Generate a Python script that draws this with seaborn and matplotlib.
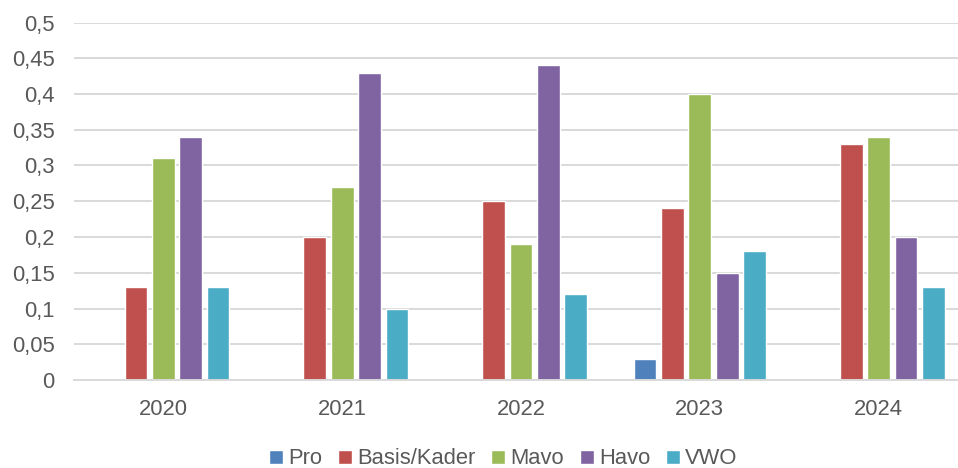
import matplotlib
matplotlib.use("Agg")
import matplotlib.pyplot as plt
import matplotlib.ticker as mticker
import seaborn as sns
import pandas as pd

years = ["2020", "2021", "2022", "2023", "2024"]
series = ["Pro", "Basis/Kader", "Mavo", "Havo", "VWO"]
pro = [0, 0, 0, 0.03, 0]
basis = [0.13, 0.20, 0.25, 0.24, 0.33]
mavo = [0.31, 0.27, 0.19, 0.40, 0.34]
havo = [0.34, 0.43, 0.44, 0.15, 0.20]
vwo = [0.13, 0.10, 0.12, 0.18, 0.13]
colors = ["#4F81BD", "#C0504D", "#9BBB59", "#8064A2", "#4BACC6"]

rows = []
for name, vals in zip(series, [pro, basis, mavo, havo, vwo]):
    for y, v in zip(years, vals):
        rows.append({"Jaar": y, "Serie": name, "Waarde": v})
df = pd.DataFrame(rows)

sns.set_style("white")
plt.rcParams["font.family"] = ["Liberation Sans", "DejaVu Sans"]
text_color = "#595959"
fs = 15.8

fig = plt.figure(figsize=(9.58, 4.68), dpi=100)
ax = fig.add_axes([74 / 958, 1 - 380 / 468, 894 / 958, 357.5 / 468])

sns.barplot(data=df, x="Jaar", y="Waarde", hue="Serie", order=years,
            hue_order=series, palette=colors, width=0.765, gap=0.17,
            saturation=1, ax=ax, legend=True)

ax.set_ylim(0, 0.5)
ax.set_xlim(-0.5, 4.5)
ax.yaxis.set_major_locator(mticker.MultipleLocator(0.05))
ax.yaxis.set_major_formatter(mticker.FuncFormatter(
    lambda v, p: ("%g" % round(v, 2)).replace(".", ",")))
ax.grid(axis="y", color="#D9D9D9", linewidth=1.4)
ax.set_axisbelow(True)
for s in ["top", "right", "left"]:
    ax.spines[s].set_visible(False)
ax.spines["bottom"].set_color("#D9D9D9")
ax.spines["bottom"].set_linewidth(1.4)
ax.set_xlabel("")
ax.set_ylabel("")
ax.tick_params(axis="both", length=0, labelsize=fs, colors=text_color)
ax.tick_params(axis="y", pad=14)
ax.tick_params(axis="x", pad=14)

handles, labels = ax.get_legend_handles_labels()
ax.get_legend().remove()
fig.legend(handles, labels, loc="center", bbox_to_anchor=(503.5 / 958, 1 - 459 / 468),
           bbox_transform=fig.transFigure,
           ncol=5, frameon=False, fontsize=fs, labelcolor=text_color,
           handlelength=0.62, handleheight=0.62, handletextpad=0.25,
           columnspacing=0.72, borderpad=0, borderaxespad=0)

fig.savefig("out.png", dpi=100)
